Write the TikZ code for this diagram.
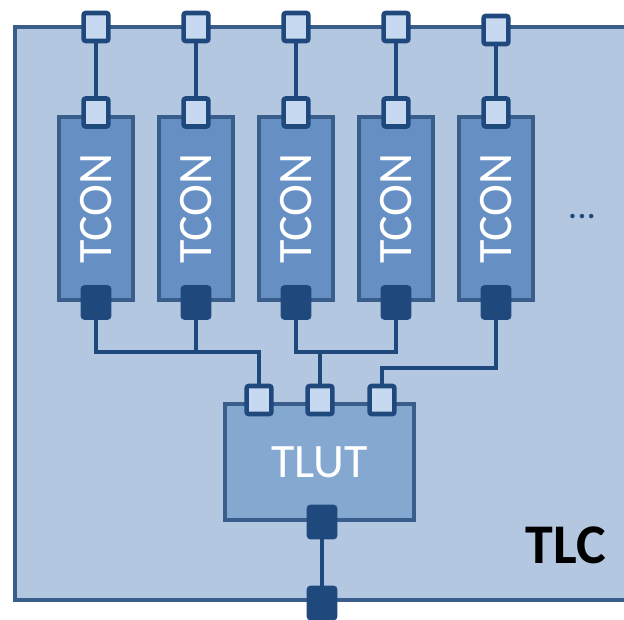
\documentclass[tikz,border=0pt]{standalone}
\usepackage{fontspec}
\setmainfont{Carlito}
\usepackage{graphicx}
\usepackage{tikz}
\usetikzlibrary{positioning,calc}
\definecolor{tlcfill}{RGB}{180,199,225}
\definecolor{boxedge}{RGB}{58,94,140}
\definecolor{tconfill}{RGB}{102,144,196}
\definecolor{tlutfill}{RGB}{133,168,208}
\definecolor{portfill}{RGB}{198,217,240}
\definecolor{portedge}{RGB}{31,73,125}

\begin{document}
\begin{tikzpicture}[x=0.75pt, y=-0.75pt,
  tlcbox/.style={fill=tlcfill, draw=boxedge, line width=3pt},
  tconbox/.style={fill=tconfill, draw=boxedge, line width=3pt, inner sep=0pt, minimum width=55.5pt, minimum height=137pt, text=white, font=\fontsize{36}{42}\selectfont},
  tlutbox/.style={fill=tlutfill, draw=boxedge, line width=3pt, inner sep=0pt, minimum width=142pt, minimum height=87pt, text=white, font=\fontsize{36}{42}\selectfont},
  inport/.style={fill=portfill, draw=portedge, line width=3.4pt, rounded corners=1.5pt, inner sep=0pt, minimum width=18.5pt, minimum height=21pt},
  outport/.style={fill=portedge, draw=portedge, line width=3pt, rounded corners=1.5pt, inner sep=0pt, minimum width=20pt, minimum height=23pt},
  wire/.style={draw=portedge, line width=3.4pt}]
\clip (0,0) rectangle (624,620);
% outer TLC block, open to the right
\draw[tlcbox] (15,27) rectangle (680,600);
\node[font=\fontsize{42}{50}\selectfont\bfseries] (tlclabel) at (566,545) {TLC};

% the TCON column
\foreach \i/\py in {1/27,2/27,3/27,4/27,5/30}{
  \node[tconbox] (tcon\i) at ({96+100*(\i-1)},208.5) {\rotatebox{90}{TCON}};
  \node[inport] (tin\i) at ({96+100*(\i-1)},112.5) {};
  \node[outport] (tout\i) at ({96+100*(\i-1)},302.5) {};
  \node[inport] (pin\i) at ({96+100*(\i-1)},\py) {};
  \draw[wire] (pin\i) -- (tin\i);
}
\node[text=portedge, font=\fontsize{28}{32}\selectfont] (more) at (582,217) {...};

% TLUT
\node[tlutbox] (tlut) at (319.5,462) {TLUT};
\node[inport] (lin1) at (259,400) {};
\node[inport] (lin2) at (320,400) {};
\node[inport] (lin3) at (382,400) {};
\node[outport] (lout) at (322,522) {};
\node[outport] (cout) at (322,603) {};

\coordinate (jl) at (259,352);
\coordinate (jm) at (320,352);
\coordinate (jr) at (382,368);
\draw[wire] (tout1.south) |- (jl) -- (lin1.north);
\draw[wire] (tout2.south) -- (tout2.south |- jl);
\draw[wire] (tout3.south) |- (jm) -| (tout4.south);
\draw[wire] (jm) -- (lin2.north);
\draw[wire] (tout5.south) |- (jr) -- (lin3.north);
\draw[wire] (lout.south) -- (cout.north);
\end{tikzpicture}
\end{document}
